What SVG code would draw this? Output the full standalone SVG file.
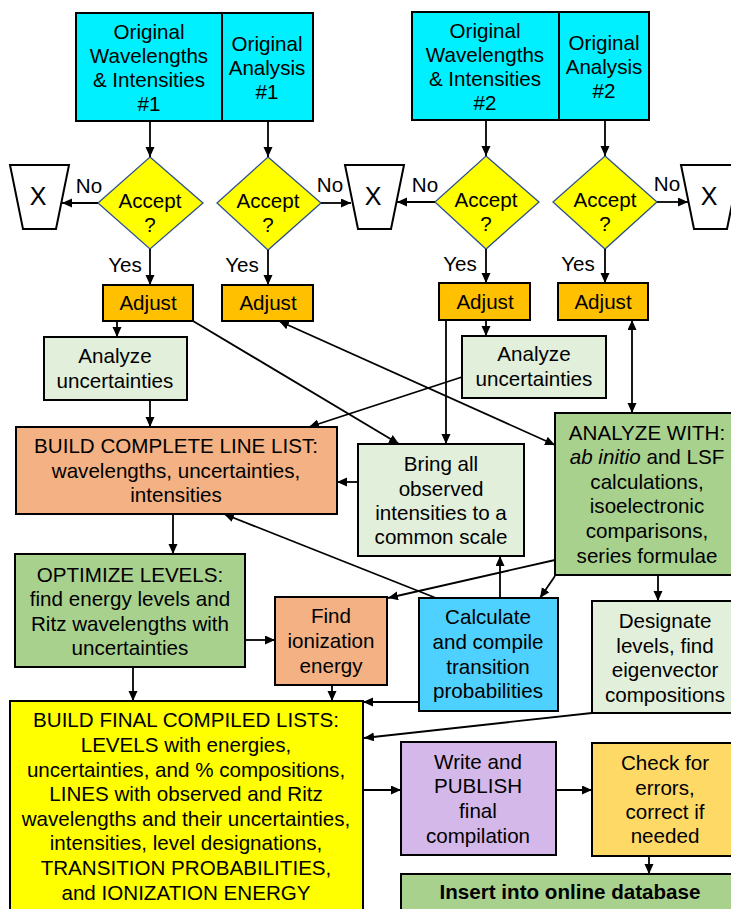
<svg xmlns="http://www.w3.org/2000/svg" width="731" height="909" viewBox="0 0 731 909">
<style>
text{font-family:"Liberation Sans",Arial,sans-serif;font-size:20.6px;fill:#000;text-anchor:middle}
.b{stroke:#000;stroke-width:2}
.d{fill:#ffff00;stroke:#2f528f;stroke-width:1.3}
.c{fill:none;stroke:#000;stroke-width:1.8}
.cyan{fill:#00f0ff}.adj{fill:#ffc000}.lg{fill:#e2efda}.sal{fill:#f4b183}.gr{fill:#a9d18e}.blu{fill:#4fd1ff}.yel{fill:#ffff00}.lav{fill:#d5b8ea}.gold{fill:#ffd966}.wh{fill:#fff}
</style>
<defs>
<marker id="a" markerUnits="userSpaceOnUse" markerWidth="11" markerHeight="10" refX="10" refY="4.5" orient="auto-start-reverse"><path d="M0,0 L10,4.5 L0,9 z" fill="#000"/></marker>
</defs>
<g id="orig1">
<rect class="b cyan" x="76" y="13" width="237" height="108"/>
<line class="b" x1="222" y1="13" x2="222" y2="121"/>
<text x="149" y="39">Original</text><text x="149" y="63">Wavelengths</text><text x="149" y="87">&amp; Intensities</text><text x="149" y="111">#1</text>
<text x="267" y="51">Original</text><text x="267" y="75">Analysis</text><text x="267" y="99">#1</text>
</g>
<g id="orig2">
<rect class="b cyan" x="412" y="12" width="237" height="108"/>
<line class="b" x1="559" y1="12" x2="559" y2="120"/>
<text x="485" y="38">Original</text><text x="485" y="62">Wavelengths</text><text x="485" y="86">&amp; Intensities</text><text x="485" y="110">#2</text>
<text x="604" y="50">Original</text><text x="604" y="74">Analysis</text><text x="604" y="98">#2</text>
</g>
<g id="acc1"><polygon class="d" points="150,157 203,203 150,249 98,203"/><text x="150" y="208">Accept</text><text x="150" y="232">?</text></g>
<g id="acc2"><polygon class="d" points="268,157 321,203 268,250 217,203"/><text x="268" y="208">Accept</text><text x="268" y="232">?</text></g>
<g id="acc3"><polygon class="d" points="486,156 539,202 486,249 435,202"/><text x="486" y="207">Accept</text><text x="486" y="231">?</text></g>
<g id="acc4"><polygon class="d" points="605,156 657,202 605,249 553,202"/><text x="605" y="207">Accept</text><text x="605" y="231">?</text></g>
<g id="x1"><polygon class="b wh" points="10,165 69,165 56,229 23,229"/><text x="38" y="205" style="font-size:25px">X</text></g>
<g id="x2"><polygon class="b wh" points="345,165 404,165 391,229 358,229"/><text x="373" y="205" style="font-size:25px">X</text></g>
<g id="x3"><polygon class="b wh" points="681,165 740,165 727,229 694,229"/><text x="709" y="205" style="font-size:25px">X</text></g>
<g id="adj1"><rect class="b adj" x="103" y="285" width="90" height="36"/><text x="148" y="310">Adjust</text></g>
<g id="adj2"><rect class="b adj" x="222" y="285" width="91" height="36"/><text x="268" y="310">Adjust</text></g>
<g id="adj3"><rect class="b adj" x="439" y="283" width="91" height="37"/><text x="485" y="309">Adjust</text></g>
<g id="adj4"><rect class="b adj" x="558" y="283" width="90" height="37"/><text x="603" y="309">Adjust</text></g>
<g id="unc1"><rect class="b lg" x="44" y="337" width="143" height="63"/><text x="115" y="363">Analyze</text><text x="115" y="388">uncertainties</text></g>
<g id="unc2"><rect class="b lg" x="462" y="336" width="144" height="62"/><text x="534" y="361">Analyze</text><text x="534" y="386">uncertainties</text></g>
<g id="buildline"><rect class="b sal" x="16" y="427" width="321" height="87"/><text x="176" y="453">BUILD COMPLETE LINE LIST:</text><text x="176" y="478">wavelengths, uncertainties,</text><text x="176" y="502">intensities</text></g>
<g id="bring"><rect class="b lg" x="358" y="444" width="166" height="112"/><text x="441" y="471">Bring all</text><text x="441" y="496">observed</text><text x="441" y="520">intensities to a</text><text x="441" y="544">common scale</text></g>
<g id="analyze"><rect class="b gr" x="555" y="413" width="178" height="162"/><text x="647" y="440">ANALYZE WITH:</text><text x="647" y="464"><tspan font-style="italic">ab initio</tspan> and LSF</text><text x="647" y="489">calculations,</text><text x="647" y="513">isoelectronic</text><text x="647" y="538">comparisons,</text><text x="647" y="563">series formulae</text></g>
<g id="optimize"><rect class="b gr" x="15" y="554" width="230" height="113"/><text x="130" y="582">OPTIMIZE LEVELS:</text><text x="130" y="606">find energy levels and</text><text x="130" y="631">Ritz wavelengths with</text><text x="130" y="655">uncertainties</text></g>
<g id="ion"><rect class="b sal" x="275" y="597" width="112" height="88"/><text x="331" y="623">Find</text><text x="331" y="648">ionization</text><text x="331" y="673">energy</text></g>
<g id="calc"><rect class="b blu" x="419" y="598" width="139" height="113"/><text x="488" y="624">Calculate</text><text x="488" y="649">and compile</text><text x="488" y="674">transition</text><text x="488" y="698">probabilities</text></g>
<g id="desig"><rect class="b lg" x="592" y="601" width="141" height="112"/><text x="665" y="628">Designate</text><text x="665" y="653">levels, find</text><text x="665" y="677">eigenvector</text><text x="665" y="702">compositions</text></g>
<g id="final"><rect class="b yel" x="10" y="701" width="353" height="215"/><text x="186" y="727">BUILD FINAL COMPILED LISTS:</text><text x="186" y="752">LEVELS with energies,</text><text x="186" y="777">uncertainties, and % compositions,</text><text x="186" y="801">LINES with observed and Ritz</text><text x="186" y="826">wavelengths and their uncertainties,</text><text x="186" y="850">intensities, level designations,</text><text x="186" y="875">TRANSITION PROBABILITIES,</text><text x="186" y="900">and IONIZATION ENERGY</text></g>
<g id="write"><rect class="b lav" x="401" y="742" width="155" height="113"/><text x="478" y="769">Write and</text><text x="478" y="793">PUBLISH</text><text x="478" y="818">final</text><text x="478" y="843">compilation</text></g>
<g id="check"><rect class="b gold" x="592" y="743" width="141" height="113"/><text x="665" y="770">Check for</text><text x="665" y="795">errors,</text><text x="665" y="819">correct if</text><text x="665" y="843">needed</text></g>
<g id="insert"><rect class="b gr" x="401" y="874" width="332" height="45"/><text x="570" y="899" font-weight="bold">Insert into online database</text></g>
<g id="labels">
<text x="89" y="193">No</text><text x="330" y="192">No</text><text x="425" y="192">No</text><text x="667" y="191">No</text>
<text x="125" y="272">Yes</text><text x="242" y="272">Yes</text><text x="460" y="271">Yes</text><text x="578" y="271">Yes</text>
</g>
<g id="connectors">
<path class="c" marker-end="url(#a)" d="M150,121 V157"/>
<path class="c" marker-end="url(#a)" d="M268,121 V157"/>
<path class="c" marker-end="url(#a)" d="M486,120 V156"/>
<path class="c" marker-end="url(#a)" d="M605,120 V156"/>
<path class="c" marker-end="url(#a)" d="M98,203 H62"/>
<path class="c" marker-end="url(#a)" d="M321,203 H351"/>
<path class="c" marker-end="url(#a)" d="M435,202 H397"/>
<path class="c" marker-end="url(#a)" d="M657,202 H688"/>
<path class="c" marker-end="url(#a)" d="M150,249 V285"/>
<path class="c" marker-end="url(#a)" d="M268,250 V285"/>
<path class="c" marker-end="url(#a)" d="M486,249 V283"/>
<path class="c" marker-end="url(#a)" d="M605,249 V283"/>
<path class="c" marker-end="url(#a)" d="M117,321 V337"/>
<path class="c" marker-end="url(#a)" d="M150,400 V427"/>
<path class="c" marker-end="url(#a)" d="M193,321 L399,444"/>
<path class="c" marker-start="url(#a)" marker-end="url(#a)" d="M279,321 L555,445"/>
<path class="c" marker-end="url(#a)" d="M446,320 V444"/>
<path class="c" marker-end="url(#a)" d="M486,320 V336"/>
<path class="c" marker-start="url(#a)" marker-end="url(#a)" d="M632,320 V413"/>
<path class="c" marker-end="url(#a)" d="M462,377 L309,427"/>
<path class="c" marker-end="url(#a)" d="M358,482 H337"/>
<path class="c" marker-end="url(#a)" d="M173,514 V554"/>
<path class="c" marker-end="url(#a)" d="M436,598 L224,514"/>
<path class="c" marker-end="url(#a)" d="M500,598 V556"/>
<path class="c" marker-end="url(#a)" d="M555,560 L388,598"/>
<path class="c" marker-end="url(#a)" d="M555,576 L540,598"/>
<path class="c" marker-end="url(#a)" d="M658,575 V601"/>
<path class="c" marker-end="url(#a)" d="M245,640 H275"/>
<path class="c" marker-end="url(#a)" d="M133,667 V701"/>
<path class="c" marker-end="url(#a)" d="M332,685 V701"/>
<path class="c" marker-end="url(#a)" d="M419,702 H363"/>
<path class="c" marker-end="url(#a)" d="M592,713 L364,738"/>
<path class="c" marker-end="url(#a)" d="M363,790 H401"/>
<path class="c" marker-end="url(#a)" d="M556,790 H592"/>
<path class="c" marker-end="url(#a)" d="M649,856 V874"/>
</g>
</svg>
